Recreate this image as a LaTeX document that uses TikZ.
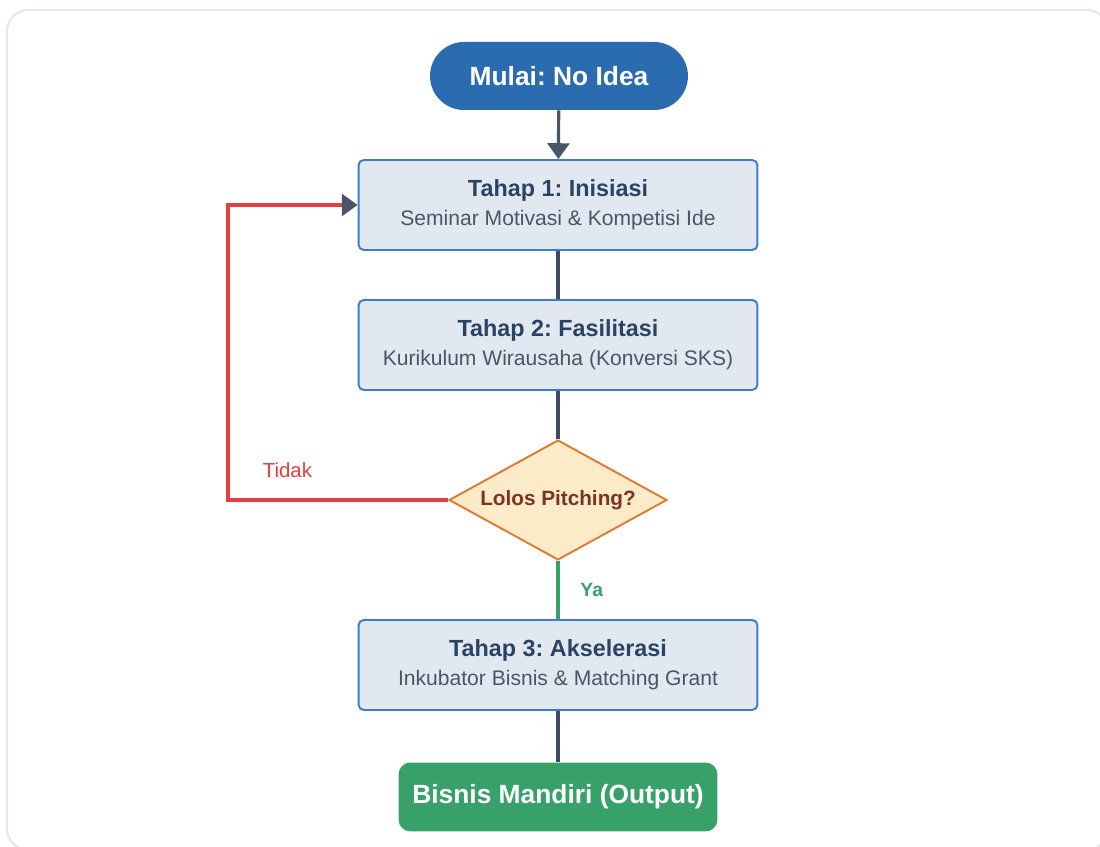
\documentclass[tikz,border=0pt]{standalone}
\usepackage{fontspec}
\setmainfont{Liberation Sans}
\usetikzlibrary{shapes.geometric,arrows.meta}
\definecolor{startblue}{HTML}{2B6CB0}
\definecolor{boxfill}{HTML}{E2E8F0}
\definecolor{boxline}{HTML}{3D7CC9}
\definecolor{titlenavy}{HTML}{2A4365}
\definecolor{subgray}{HTML}{4A5568}
\definecolor{linenavy}{HTML}{3C4A66}
\definecolor{arrowgray}{HTML}{4A5568}
\definecolor{noRed}{HTML}{E53E3E}
\definecolor{yesGreen}{HTML}{38A169}
\definecolor{decFill}{HTML}{FCEBC8}
\definecolor{decLine}{HTML}{E07B2E}
\definecolor{decText}{HTML}{7B341E}
\definecolor{frameGray}{HTML}{E2E8F0}
\frenchspacing
\newcommand{\stagetext}[2]{{\fontsize{13.3}{16}\selectfont\bfseries\color{titlenavy}#1}\\[4.5pt]{\fontsize{12}{15}\selectfont\color{subgray}#2}}
\tikzset{
  stage/.style={draw=boxline, fill=boxfill, line width=1.1pt, rounded corners=3pt,
    minimum width=7.98cm, minimum height=1.8cm, align=center, inner sep=0pt},
  startpill/.style={fill=startblue, text=white, rounded corners=0.68cm,
    minimum width=5.16cm, minimum height=1.36cm, font=\fontsize{15}{18}\selectfont\bfseries},
  endbox/.style={fill=yesGreen, text=white, rounded corners=0.24cm,
    minimum width=6.38cm, minimum height=1.38cm, font=\fontsize{15}{18}\selectfont\bfseries},
  decision/.style={diamond, draw=decLine, fill=decFill, line width=1.1pt, inner sep=0pt,
    shape aspect=1.82, minimum width=4.36cm, minimum height=2.4cm,
    text=decText, font=\fontsize{11.8}{14}\selectfont\bfseries},
  flow/.style={line width=1.8pt, draw=linenavy},
  arrowtip/.style={-{Triangle[length=9pt,width=12.5pt,color=arrowgray]}}
}
\begin{document}
\begin{tikzpicture}[x=0.02cm,y=-0.02cm]
\useasboundingbox (0,0) rectangle (1100,847);
\clip (0,0) rectangle (1100,847);
\draw[frameGray, line width=1.2pt, rounded corners=12pt] (7,10) rectangle (1108,850);
\node[startpill] (start) at (559,76) {Mulai: No Idea};
\node[stage] (t1) at (558,205) {\stagetext{Tahap 1: Inisiasi}{Seminar Motivasi \& Kompetisi Ide}};
\node[stage] (t2) at (558,345) {\stagetext{Tahap 2: Fasilitasi}{Kurikulum Wirausaha (Konversi SKS)}};
\node[decision] (dec) at (558,500) {Lolos Pitching?};
\node[stage] (t3) at (558,665) {\stagetext{Tahap 3: Akselerasi}{Inkubator Bisnis \& Matching Grant}};
\node[endbox] (out) at (558,797) {Bisnis Mandiri (Output)};
\coordinate (loop) at (228,500);
\draw[flow, draw=arrowgray, arrowtip] (start) -- (t1);
\draw[flow] (t1) -- (t2);
\draw[flow] (t2) -- (dec);
\draw[flow, draw=yesGreen] (dec) -- node[right=0.3cm, text=yesGreen, font=\fontsize{11}{13}\selectfont\bfseries] {Ya} (t3);
\draw[flow] (t3) -- (out);
\draw[flow, draw=noRed, arrowtip] (dec.west) -- node[pos=0.73, yshift=0.6cm, text=noRed, font=\fontsize{11.6}{14}\selectfont] {Tidak} (loop) |- (t1.west);
\end{tikzpicture}
\end{document}
